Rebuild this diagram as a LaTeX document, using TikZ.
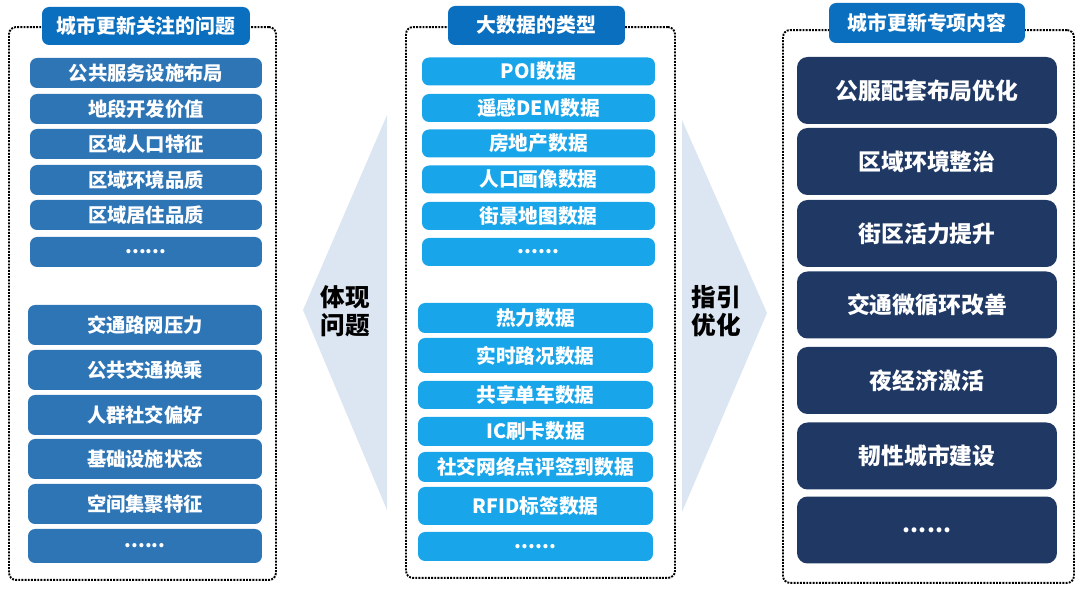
\documentclass[tikz,border=0pt]{standalone}
\usepackage{fontspec}
\setmainfont{Noto Sans CJK SC}
\usetikzlibrary{positioning}

\definecolor{issueblue}{HTML}{2E75B6}
\definecolor{datablue}{HTML}{19A5E9}
\definecolor{topicnavy}{HTML}{1F3864}
\definecolor{headblue}{HTML}{0B6FBF}
\definecolor{chevron}{HTML}{DCE6F2}

\begin{document}
\begin{tikzpicture}[x=0.02cm, y=-0.02cm,
        panel/.style={draw, line width=1.1pt, dash pattern=on 1.1pt off 0.7pt,
                      rounded corners=4pt},
        head/.style={fill=headblue, rounded corners=4pt, text=white, inner sep=0pt,
                     font=\bfseries\fontsize{11.3}{13}\selectfont},
        issue/.style={fill=issueblue, rounded corners=4pt, text=white, inner sep=0pt,
                      minimum width=4.64cm, minimum height=0.6cm,
                      font=\bfseries\fontsize{11}{13}\selectfont},
        data/.style={fill=datablue, rounded corners=4pt, text=white, inner sep=0pt,
                     minimum width=4.66cm, minimum height=0.56cm,
                     font=\bfseries\fontsize{11.2}{13}\selectfont},
        topic/.style={fill=topicnavy, rounded corners=6pt, text=white, inner sep=0pt,
                      minimum width=5.2cm, minimum height=1.34cm,
                      font=\bfseries\fontsize{13}{15}\selectfont},
        cheviron/.style={fill=chevron},
        chevtext/.style={align=center, font=\bfseries\fontsize{14}{16}\selectfont},
    ]
        \useasboundingbox (0,0) rectangle (1080,590);

        % Chevrons between the panels
        \fill[cheviron] (387,115) -- (303,310) -- (387,510) -- cycle;
        \fill[cheviron] (682,120) -- (767,313) -- (682,512) -- cycle;
        \node[chevtext] (reflect) at (345,311) {体现\\问题};
        \node[chevtext] (guide) at (716,311) {指引\\优化};

        % Left panel: issues
        \node[panel, minimum width=5.34cm, minimum height=11.06cm] (issues) at (142.5,303.5) {};
        \node[head, minimum width=4.16cm, minimum height=0.76cm] (issuehead) at (146,26) {城市更新关注的问题};
        \node[issue] (i1) at (146,73) {公共服务设施布局};
        \node[issue] (i2) at (146,109) {地段开发价值};
        \node[issue] (i3) at (146,144) {区域人口特征};
        \node[issue] (i4) at (146,180) {区域环境品质};
        \node[issue] (i5) at (146,215) {区域居住品质};
        \node[issue] (i6) at (146,252) {......};
        \node[issue, minimum width=4.68cm, minimum height=0.8cm] (i7) at (145,325) {交通路网压力};
        \node[issue, minimum width=4.68cm, minimum height=0.8cm] (i8) at (145,370) {公共交通换乘};
        \node[issue, minimum width=4.68cm, minimum height=0.8cm] (i9) at (145,415) {人群社交偏好};
        \node[issue, minimum width=4.68cm, minimum height=0.8cm] (i10) at (145,459) {基础设施状态};
        \node[issue, minimum width=4.68cm, minimum height=0.8cm] (i11) at (145,504) {空间集聚特征};
        \node[issue, minimum width=4.68cm, minimum height=0.68cm] (i12) at (145,546) {......};

        % Middle panel: big data types
        \node[panel, minimum width=5.38cm, minimum height=11.02cm] (types) at (540.5,302.5) {};
        \node[head, minimum width=3.54cm, minimum height=0.78cm] (typehead) at (536.5,25.5) {大数据的类型};
        \node[data] (d1) at (538.5,71.5) {POI数据};
        \node[data] (d2) at (538.5,108) {遥感DEM数据};
        \node[data] (d3) at (538.5,143.5) {房地产数据};
        \node[data] (d4) at (538.5,179.5) {人口画像数据};
        \node[data] (d5) at (538.5,216) {街景地图数据};
        \node[data] (d6) at (538.5,252) {......};
        \node[data, minimum width=4.7cm, minimum height=0.6cm] (d7) at (535.5,318) {热力数据};
        \node[data, minimum width=4.7cm, minimum height=0.7cm] (d8) at (535.5,355.5) {实时路况数据};
        \node[data, minimum width=4.7cm, minimum height=0.56cm] (d9) at (535.5,395) {共享单车数据};
        \node[data, minimum width=4.7cm, minimum height=0.58cm] (d10) at (535.5,431.5) {IC刷卡数据};
        \node[data, minimum width=4.7cm, minimum height=0.6cm] (d11) at (535.5,467) {社交网络点评签到数据};
        \node[data, minimum width=4.7cm, minimum height=0.76cm] (d12) at (535.5,506) {RFID标签数据};
        \node[data, minimum width=4.7cm, minimum height=0.58cm] (d13) at (535.5,546.5) {......};

        % Right panel: renewal topics
        \node[panel, minimum width=5.82cm, minimum height=11.06cm] (topics) at (928.5,306.5) {};
        \node[head, minimum width=3.92cm, minimum height=0.8cm] (topichead) at (927,23) {城市更新专项内容};
        \node[topic] (t1) at (927,90.5) {公服配套布局优化};
        \node[topic] (t2) at (927,161.5) {区域环境整治};
        \node[topic] (t3) at (927,233.5) {街区活力提升};
        \node[topic] (t4) at (927,305) {交通微循环改善};
        \node[topic] (t5) at (927,380.5) {夜经济激活};
        \node[topic] (t6) at (927,456) {韧性城市建设};
        \node[topic] (t7) at (927,530) {......};
    \end{tikzpicture}
\end{document}
